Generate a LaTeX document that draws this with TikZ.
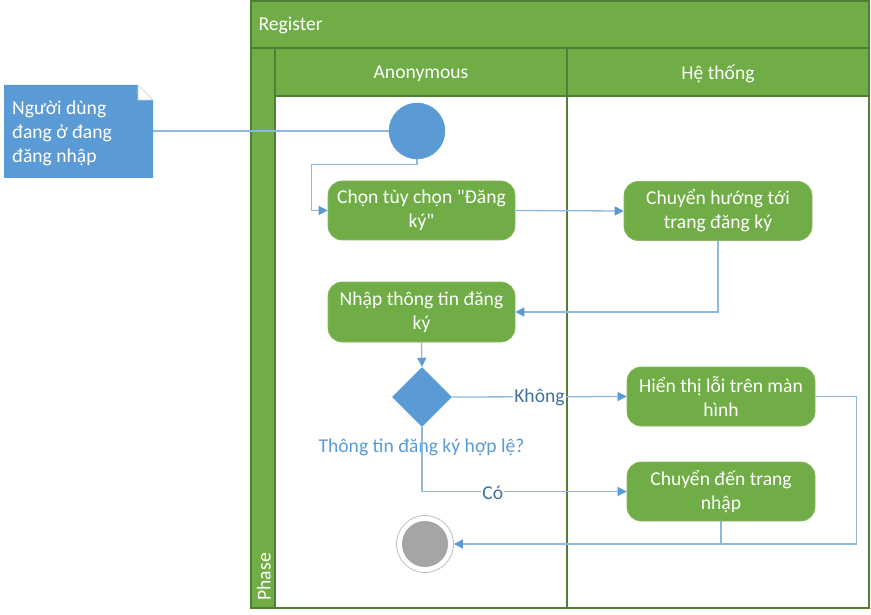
\documentclass[tikz,border=0pt]{standalone}
\usepackage{fontspec}
\setmainfont{Carlito}[Ligatures=TeXOff]
\usetikzlibrary{arrows.meta,shapes.geometric,calc}
\definecolor{gfill}{HTML}{70AD47}
\definecolor{gline}{HTML}{507E32}
\definecolor{bfill}{HTML}{5B9BD5}
\definecolor{cline}{HTML}{8FB8E0}
\definecolor{lbl}{HTML}{41719C}
\definecolor{endgray}{HTML}{A5A5A5}
\tikzset{
  lane/.style={draw=gline, line width=1.2pt, fill=gfill},
  act/.style={rectangle, rounded corners=14pt, fill=gfill, draw=gfill!85!white, line width=0.6pt,
     minimum width=187pt, minimum height=59pt, inner sep=2pt, align=center, text=white,
     font=\fontsize{19.6}{24}\selectfont},
  conn/.style={draw=cline, line width=1.3pt},
  arr/.style={conn, -{Triangle[length=9pt,width=9pt,color=bfill]}},
  hdr/.style={text=white, font=\fontsize{19.6}{24}\selectfont},
  edgelbl/.style={text=lbl, fill=white, inner sep=1pt, font=\fontsize{19.6}{24}\selectfont},
}
\begin{document}
\begin{tikzpicture}[x=1pt,y=-1pt]
\useasboundingbox (0,0) rectangle (871,615);
% swimlane frame
\path[lane] (251,1) rectangle (869,48);
\node[hdr, anchor=west] (title) at (255,25.5) {Register};
\path[lane] (251,48) rectangle (275,608);
\node[hdr, rotate=90, anchor=west] (phase) at (264,604) {Phase};
\path[lane] (275,48) rectangle (567,96);
\path[lane] (567,48) rectangle (869,96);
\node[hdr] (anon) at (421,73.5) {Anonymous};
\node[hdr] (sys) at (718,73.5) {Hệ thống};
\path[draw=gline, line width=1.2pt, fill=white] (275,96) rectangle (869,608);
\draw[gline, line width=1.2pt] (567,96) -- (567,608);
% note
\path[fill=bfill] (4,85) -- (138,85) -- (153,100) -- (153,178) -- (4,178) -- cycle;
\path[fill=white, draw=bfill!40!white, line width=0.6pt] (138,85) -- (138,100) -- (153,100) -- cycle;
\node[anchor=west, align=left, text=white, inner sep=0pt, font=\fontsize{19.6}{24}\selectfont] (note) at (12,133.5) {Người dùng\\đang ở đang\\đăng nhập};
\coordinate (noteE) at (153,131);
% nodes
\node[circle, fill=bfill, draw=bfill, minimum size=56pt, inner sep=0pt] (start) at (417,131) {};
\node[act] (b1) at (421.5,210.5) {\raisebox{-1.5pt}{\parbox{180pt}{\centering Chọn tùy chọn "Đăng\\ký"}}};
\node[act, minimum width=188pt] (b2) at (718,211) {\raisebox{-1.5pt}{\parbox{180pt}{\centering Chuyển hướng tới\\trang đăng ký}}};
\node[act, minimum height=60pt] (b3) at (421.5,312) {\raisebox{-1.5pt}{\parbox{180pt}{\centering Nhập thông tin đăng\\ký}}};
\node[diamond, fill=bfill, minimum width=60pt, minimum height=60pt, inner sep=0pt] (dia) at (422,397) {};
\node[text=bfill, font=\fontsize{19.6}{24}\selectfont, inner sep=0pt] (dlbl) at (421.5,447) {Thông tin đăng ký hợp lệ?};
\node[act, minimum width=188pt] (b4) at (721,396.5) {\raisebox{-1.5pt}{\parbox{180pt}{\centering Hiển thị lỗi trên màn\\hình}}};
\node[act, minimum width=188pt] (b5) at (721,491.5) {\raisebox{-1.5pt}{\parbox{180pt}{\centering Chuyển đến trang\\nhập}}};
\node[circle, fill=white, draw=black!25, line width=0.8pt, minimum size=57pt, inner sep=0pt] (end) at (425,544) {};
\node[circle, fill=endgray, minimum size=46pt, inner sep=0pt] (endin) at (end) {};
% connectors
\draw[conn] (noteE) -- (start.west);
\draw[arr] (start.south) -- ++(0,5) -| ($(b1.west)+(-16,0)$) -- (b1.west);
\draw[arr] (b1.east) -- (b2.west);
\draw[arr] (b2.south) |- (b3.east);
\draw[arr] (b3.south) -- (dia.north);
\draw[arr] (dia.east) -- node[edgelbl, yshift=-1pt] {Không} (b4.west);
\draw[arr] (dia.south) |- node[edgelbl, pos=0.673, yshift=-1pt] {Có} (b5.west);
\draw[arr] (b4.east) -- ++(41,0) |- (end.east);
\draw[conn] (b5.south) -- (b5.south |- end.east);
\end{tikzpicture}
\end{document}
